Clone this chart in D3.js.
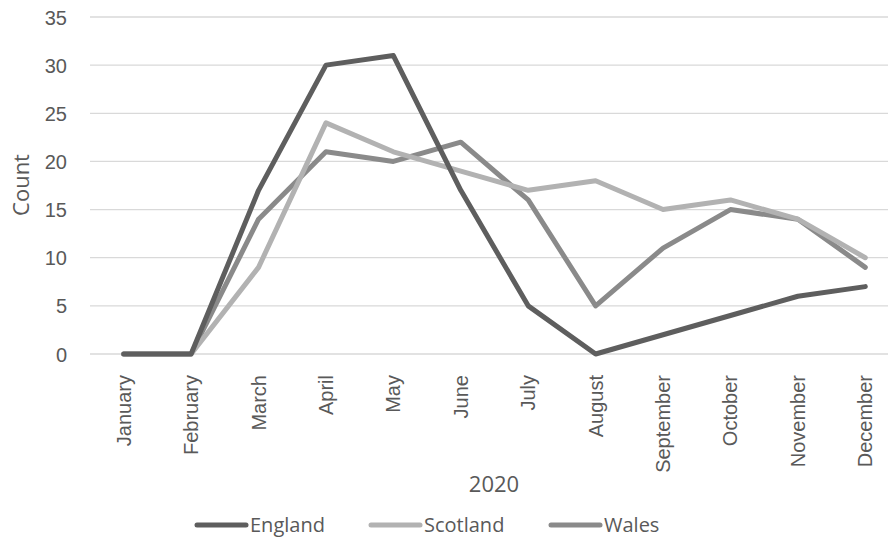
<!DOCTYPE html>
<meta charset="utf-8">
<script src="https://cdn.jsdelivr.net/npm/d3@7"></script>
<style>
	body{margin:0;background:#fff;font-family:"Open Sans",sans-serif;}
	text{fill:#595959;}
</style>
<div id="chart"></div>
<script>
var months = ["January","February","March","April","May","June","July","August","September","October","November","December"]
var england = [0,0,17,30,31,17,5,0,2,4,6,7]
var scotland = [0,0,9,24,21,19,17,18,15,16,14,10]
var wales = [0,0,14,21,20,22,16,5,11,15,14,9]
var seriesNames = ["England","Scotland","Wales"]
var yTicks = [0,5,10,15,20,25,30,35]

var colors = {"England":"#5e5e5e","Scotland":"#b2b2b2","Wales":"#8a8a8a"}

var svg = d3.select("#chart").append("svg")
	.attr("width",888)
	.attr("height",540)

var xScale = d3.scaleBand().domain(months).range([90,899])
var yScale = d3.scaleLinear().domain([0,35]).range([354,17])

// gridlines
svg.append("g").selectAll("line")
	.data(yTicks)
	.enter()
	.append("line")
	.attr("x1",90).attr("x2",888)
	.attr("y1",function(d){return yScale(d)})
	.attr("y2",function(d){return yScale(d)})
	.attr("stroke","#d9d9d9")
	.attr("stroke-width",1.3)

var yAxis = d3.axisLeft().scale(yScale).tickValues(yTicks).tickSize(0).tickPadding(0)
var gy = svg.append("g").attr("transform","translate(67,0)").call(yAxis)
gy.select(".domain").remove()
gy.selectAll("text").style("font-size","20px").attr("dy","0.35em")

var xAxis = d3.axisBottom().scale(xScale).tickSize(0)
var gx = svg.append("g").attr("transform","translate(0,354)").call(xAxis)
gx.select(".domain").remove()
gx.selectAll("text")
	.style("font-size","20px")
	.attr("text-anchor","end")
	.attr("transform","rotate(-90)")
	.attr("x",-21)
	.attr("y",0)
	.attr("dy","0.35em")

var data = {"England":england,"Scotland":scotland,"Wales":wales}
var line = d3.line()
	.x(function(d,i){return xScale(months[i])+xScale.bandwidth()/2})
	.y(function(d){return yScale(d)})

// draw in reverse so England sits on top
seriesNames.slice().reverse().forEach(function(s){
	svg.append("path")
		.datum(data[s])
		.attr("fill","none")
		.attr("stroke",colors[s])
		.attr("stroke-width",5)
		.attr("stroke-linejoin","round")
		.attr("stroke-linecap","round")
		.attr("d",line)
})

svg.append("text")
	.attr("x",494).attr("y",492)
	.attr("text-anchor","middle")
	.style("font-size","22px")
	.text("2020")

svg.append("text")
	.attr("transform","translate(29,185) rotate(-90)")
	.attr("text-anchor","middle")
	.style("font-size","22px")
	.text("Count")

var legendX = [197,371,551]
seriesNames.forEach(function(s,i){
	var g = svg.append("g").attr("transform","translate("+legendX[i]+",525)")
	g.append("line").attr("x1",0).attr("x2",49)
		.attr("stroke",colors[s]).attr("stroke-width",5).attr("stroke-linecap","round")
	g.append("text").attr("x",53).attr("dy","0.35em")
		.style("font-size","20px").text(s)
})
</script>
